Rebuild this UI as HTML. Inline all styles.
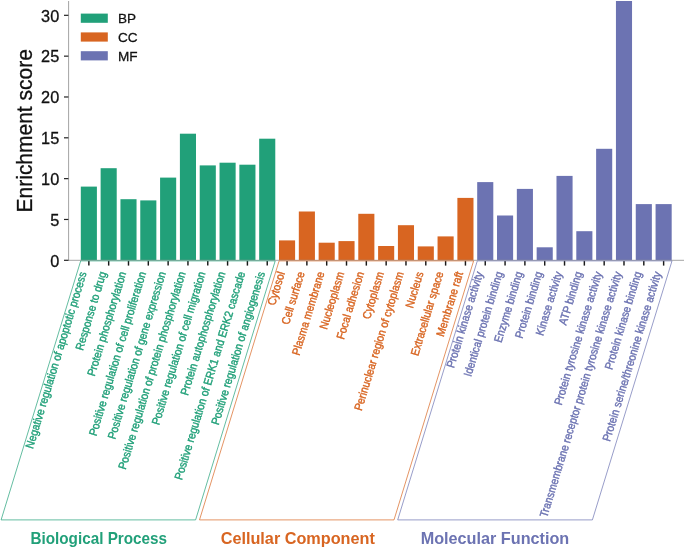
<!DOCTYPE html><html><head><meta charset="utf-8"><title>GO enrichment</title><style>html,body{margin:0;padding:0;background:#fff}svg{display:block;will-change:transform;opacity:0.999}text{font-family:"Liberation Sans",sans-serif}</style></head><body>
<svg width="685" height="549" viewBox="0 0 685 549">
<rect width="685" height="549" fill="#fff"/>
<rect x="80.80" y="186.60" width="16.1" height="73.40" fill="#21A079"/>
<rect x="100.62" y="168.20" width="16.1" height="91.80" fill="#21A079"/>
<rect x="120.44" y="199.20" width="16.1" height="60.80" fill="#21A079"/>
<rect x="140.26" y="200.40" width="16.1" height="59.60" fill="#21A079"/>
<rect x="160.08" y="177.60" width="16.1" height="82.40" fill="#21A079"/>
<rect x="179.90" y="133.70" width="16.1" height="126.30" fill="#21A079"/>
<rect x="199.72" y="165.40" width="16.1" height="94.60" fill="#21A079"/>
<rect x="219.54" y="162.70" width="16.1" height="97.30" fill="#21A079"/>
<rect x="239.36" y="164.70" width="16.1" height="95.30" fill="#21A079"/>
<rect x="259.18" y="138.70" width="16.1" height="121.30" fill="#21A079"/>
<rect x="279.00" y="240.40" width="16.1" height="19.60" fill="#D86521"/>
<rect x="298.82" y="211.50" width="16.1" height="48.50" fill="#D86521"/>
<rect x="318.64" y="242.70" width="16.1" height="17.30" fill="#D86521"/>
<rect x="338.46" y="241.10" width="16.1" height="18.90" fill="#D86521"/>
<rect x="358.28" y="213.80" width="16.1" height="46.20" fill="#D86521"/>
<rect x="378.10" y="246.00" width="16.1" height="14.00" fill="#D86521"/>
<rect x="397.92" y="225.20" width="16.1" height="34.80" fill="#D86521"/>
<rect x="417.74" y="246.40" width="16.1" height="13.60" fill="#D86521"/>
<rect x="437.56" y="236.40" width="16.1" height="23.60" fill="#D86521"/>
<rect x="457.38" y="197.90" width="16.1" height="62.10" fill="#D86521"/>
<rect x="477.20" y="182.10" width="16.1" height="77.90" fill="#6C73B2"/>
<rect x="497.02" y="215.50" width="16.1" height="44.50" fill="#6C73B2"/>
<rect x="516.84" y="188.90" width="16.1" height="71.10" fill="#6C73B2"/>
<rect x="536.66" y="247.30" width="16.1" height="12.70" fill="#6C73B2"/>
<rect x="556.48" y="175.90" width="16.1" height="84.10" fill="#6C73B2"/>
<rect x="576.30" y="231.20" width="16.1" height="28.80" fill="#6C73B2"/>
<rect x="596.12" y="148.80" width="16.1" height="111.20" fill="#6C73B2"/>
<rect x="615.94" y="1.00" width="16.1" height="259.00" fill="#6C73B2"/>
<rect x="635.76" y="204.10" width="16.1" height="55.90" fill="#6C73B2"/>
<rect x="655.58" y="204.10" width="16.1" height="55.90" fill="#6C73B2"/>
<line x1="68.6" y1="1" x2="68.6" y2="260.7" stroke="#929292" stroke-width="0.85"/>
<line x1="68.2" y1="260.3" x2="684" y2="260.3" stroke="#929292" stroke-width="0.85"/>
<line x1="64" y1="260.30" x2="68.4" y2="260.30" stroke="#222" stroke-width="1.2"/>
<text transform="translate(59.2,266.60) scale(1.0,1)" font-size="16.3" text-anchor="end" fill="#111" stroke="#111" stroke-width="0.3">0</text>
<line x1="64" y1="219.47" x2="68.4" y2="219.47" stroke="#222" stroke-width="1.2"/>
<text transform="translate(59.2,225.77) scale(1.0,1)" font-size="16.3" text-anchor="end" fill="#111" stroke="#111" stroke-width="0.3">5</text>
<line x1="64" y1="178.64" x2="68.4" y2="178.64" stroke="#222" stroke-width="1.2"/>
<text transform="translate(59.2,184.94) scale(1.0,1)" font-size="16.3" text-anchor="end" fill="#111" stroke="#111" stroke-width="0.3">10</text>
<line x1="64" y1="137.81" x2="68.4" y2="137.81" stroke="#222" stroke-width="1.2"/>
<text transform="translate(59.2,144.11) scale(1.0,1)" font-size="16.3" text-anchor="end" fill="#111" stroke="#111" stroke-width="0.3">15</text>
<line x1="64" y1="96.98" x2="68.4" y2="96.98" stroke="#222" stroke-width="1.2"/>
<text transform="translate(59.2,103.28) scale(1.0,1)" font-size="16.3" text-anchor="end" fill="#111" stroke="#111" stroke-width="0.3">20</text>
<line x1="64" y1="56.15" x2="68.4" y2="56.15" stroke="#222" stroke-width="1.2"/>
<text transform="translate(59.2,62.45) scale(1.0,1)" font-size="16.3" text-anchor="end" fill="#111" stroke="#111" stroke-width="0.3">25</text>
<line x1="64" y1="15.32" x2="68.4" y2="15.32" stroke="#222" stroke-width="1.2"/>
<text transform="translate(59.2,21.62) scale(1.0,1)" font-size="16.3" text-anchor="end" fill="#111" stroke="#111" stroke-width="0.3">30</text>
<line x1="88.85" y1="260.9" x2="88.85" y2="265.6" stroke="#1a1a1a" stroke-width="1.45"/>
<line x1="108.67" y1="260.9" x2="108.67" y2="265.6" stroke="#1a1a1a" stroke-width="1.45"/>
<line x1="128.49" y1="260.9" x2="128.49" y2="265.6" stroke="#1a1a1a" stroke-width="1.45"/>
<line x1="148.31" y1="260.9" x2="148.31" y2="265.6" stroke="#1a1a1a" stroke-width="1.45"/>
<line x1="168.13" y1="260.9" x2="168.13" y2="265.6" stroke="#1a1a1a" stroke-width="1.45"/>
<line x1="187.95" y1="260.9" x2="187.95" y2="265.6" stroke="#1a1a1a" stroke-width="1.45"/>
<line x1="207.77" y1="260.9" x2="207.77" y2="265.6" stroke="#1a1a1a" stroke-width="1.45"/>
<line x1="227.59" y1="260.9" x2="227.59" y2="265.6" stroke="#1a1a1a" stroke-width="1.45"/>
<line x1="247.41" y1="260.9" x2="247.41" y2="265.6" stroke="#1a1a1a" stroke-width="1.45"/>
<line x1="267.23" y1="260.9" x2="267.23" y2="265.6" stroke="#1a1a1a" stroke-width="1.45"/>
<line x1="287.05" y1="260.9" x2="287.05" y2="265.6" stroke="#1a1a1a" stroke-width="1.45"/>
<line x1="306.87" y1="260.9" x2="306.87" y2="265.6" stroke="#1a1a1a" stroke-width="1.45"/>
<line x1="326.69" y1="260.9" x2="326.69" y2="265.6" stroke="#1a1a1a" stroke-width="1.45"/>
<line x1="346.51" y1="260.9" x2="346.51" y2="265.6" stroke="#1a1a1a" stroke-width="1.45"/>
<line x1="366.33" y1="260.9" x2="366.33" y2="265.6" stroke="#1a1a1a" stroke-width="1.45"/>
<line x1="386.15" y1="260.9" x2="386.15" y2="265.6" stroke="#1a1a1a" stroke-width="1.45"/>
<line x1="405.97" y1="260.9" x2="405.97" y2="265.6" stroke="#1a1a1a" stroke-width="1.45"/>
<line x1="425.79" y1="260.9" x2="425.79" y2="265.6" stroke="#1a1a1a" stroke-width="1.45"/>
<line x1="445.61" y1="260.9" x2="445.61" y2="265.6" stroke="#1a1a1a" stroke-width="1.45"/>
<line x1="465.43" y1="260.9" x2="465.43" y2="265.6" stroke="#1a1a1a" stroke-width="1.45"/>
<line x1="485.25" y1="260.9" x2="485.25" y2="265.6" stroke="#1a1a1a" stroke-width="1.45"/>
<line x1="505.07" y1="260.9" x2="505.07" y2="265.6" stroke="#1a1a1a" stroke-width="1.45"/>
<line x1="524.89" y1="260.9" x2="524.89" y2="265.6" stroke="#1a1a1a" stroke-width="1.45"/>
<line x1="544.71" y1="260.9" x2="544.71" y2="265.6" stroke="#1a1a1a" stroke-width="1.45"/>
<line x1="564.53" y1="260.9" x2="564.53" y2="265.6" stroke="#1a1a1a" stroke-width="1.45"/>
<line x1="584.35" y1="260.9" x2="584.35" y2="265.6" stroke="#1a1a1a" stroke-width="1.45"/>
<line x1="604.17" y1="260.9" x2="604.17" y2="265.6" stroke="#1a1a1a" stroke-width="1.45"/>
<line x1="623.99" y1="260.9" x2="623.99" y2="265.6" stroke="#1a1a1a" stroke-width="1.45"/>
<line x1="643.81" y1="260.9" x2="643.81" y2="265.6" stroke="#1a1a1a" stroke-width="1.45"/>
<line x1="663.63" y1="260.9" x2="663.63" y2="265.6" stroke="#1a1a1a" stroke-width="1.45"/>
<text transform="translate(86.85,272.6) scale(1.14,1) rotate(-75.0) skewX(7.0)" font-size="10.23" font-style="italic" text-anchor="end" fill="#21A079" stroke="#21A079" stroke-width="0.35">Negative regulation of apoptotic process</text>
<text transform="translate(106.67,272.6) scale(1.14,1) rotate(-75.0) skewX(7.0)" font-size="10.23" font-style="italic" text-anchor="end" fill="#21A079" stroke="#21A079" stroke-width="0.35">Response to drug</text>
<text transform="translate(126.49,272.6) scale(1.14,1) rotate(-75.0) skewX(7.0)" font-size="10.23" font-style="italic" text-anchor="end" fill="#21A079" stroke="#21A079" stroke-width="0.35">Protein phosphorylation</text>
<text transform="translate(146.31,272.6) scale(1.14,1) rotate(-75.0) skewX(7.0)" font-size="10.23" font-style="italic" text-anchor="end" fill="#21A079" stroke="#21A079" stroke-width="0.35">Positive regulation of cell proliferation</text>
<text transform="translate(166.13,272.6) scale(1.14,1) rotate(-75.0) skewX(7.0)" font-size="10.23" font-style="italic" text-anchor="end" fill="#21A079" stroke="#21A079" stroke-width="0.35">Positive regulation of gene expression</text>
<text transform="translate(185.95,272.6) scale(1.14,1) rotate(-75.0) skewX(7.0)" font-size="10.23" font-style="italic" text-anchor="end" fill="#21A079" stroke="#21A079" stroke-width="0.35">Positive regulation of protein phosphorylation</text>
<text transform="translate(205.77,272.6) scale(1.14,1) rotate(-75.0) skewX(7.0)" font-size="10.23" font-style="italic" text-anchor="end" fill="#21A079" stroke="#21A079" stroke-width="0.35">Positive regulation of cell migration</text>
<text transform="translate(225.59,272.6) scale(1.14,1) rotate(-75.0) skewX(7.0)" font-size="10.23" font-style="italic" text-anchor="end" fill="#21A079" stroke="#21A079" stroke-width="0.35">Protein autophosphorylation</text>
<text transform="translate(245.41,272.6) scale(1.14,1) rotate(-75.0) skewX(7.0)" font-size="10.23" font-style="italic" text-anchor="end" fill="#21A079" stroke="#21A079" stroke-width="0.35">Positive regulation of ERK1 and ERK2 cascade</text>
<text transform="translate(265.23,272.6) scale(1.14,1) rotate(-75.0) skewX(7.0)" font-size="10.23" font-style="italic" text-anchor="end" fill="#21A079" stroke="#21A079" stroke-width="0.35">Positive regulation of angiogenesis</text>
<text transform="translate(285.05,272.6) scale(1.14,1) rotate(-75.0) skewX(7.0)" font-size="10.23" font-style="italic" text-anchor="end" fill="#D86521" stroke="#D86521" stroke-width="0.35">Cytosol</text>
<text transform="translate(304.87,272.6) scale(1.14,1) rotate(-75.0) skewX(7.0)" font-size="10.23" font-style="italic" text-anchor="end" fill="#D86521" stroke="#D86521" stroke-width="0.35">Cell surface</text>
<text transform="translate(324.69,272.6) scale(1.14,1) rotate(-75.0) skewX(7.0)" font-size="10.23" font-style="italic" text-anchor="end" fill="#D86521" stroke="#D86521" stroke-width="0.35">Plasma membrane</text>
<text transform="translate(344.51,272.6) scale(1.14,1) rotate(-75.0) skewX(7.0)" font-size="10.23" font-style="italic" text-anchor="end" fill="#D86521" stroke="#D86521" stroke-width="0.35">Nucleoplasm</text>
<text transform="translate(364.33,272.6) scale(1.14,1) rotate(-75.0) skewX(7.0)" font-size="10.23" font-style="italic" text-anchor="end" fill="#D86521" stroke="#D86521" stroke-width="0.35">Focal adhesion</text>
<text transform="translate(384.15,272.6) scale(1.14,1) rotate(-75.0) skewX(7.0)" font-size="10.23" font-style="italic" text-anchor="end" fill="#D86521" stroke="#D86521" stroke-width="0.35">Cytoplasm</text>
<text transform="translate(403.97,272.6) scale(1.14,1) rotate(-75.0) skewX(7.0)" font-size="10.23" font-style="italic" text-anchor="end" fill="#D86521" stroke="#D86521" stroke-width="0.35">Perinuclear region of cytoplasm</text>
<text transform="translate(423.79,272.6) scale(1.14,1) rotate(-75.0) skewX(7.0)" font-size="10.23" font-style="italic" text-anchor="end" fill="#D86521" stroke="#D86521" stroke-width="0.35">Nucleus</text>
<text transform="translate(443.61,272.6) scale(1.14,1) rotate(-75.0) skewX(7.0)" font-size="10.23" font-style="italic" text-anchor="end" fill="#D86521" stroke="#D86521" stroke-width="0.35">Extracellular space</text>
<text transform="translate(463.43,272.6) scale(1.14,1) rotate(-75.0) skewX(7.0)" font-size="10.23" font-style="italic" text-anchor="end" fill="#D86521" stroke="#D86521" stroke-width="0.35">Membrane raft</text>
<text transform="translate(483.25,272.6) scale(1.14,1) rotate(-75.0) skewX(7.0)" font-size="10.23" font-style="italic" text-anchor="end" fill="#6C73B2" stroke="#6C73B2" stroke-width="0.35">Protein kinase activity</text>
<text transform="translate(503.07,272.6) scale(1.14,1) rotate(-75.0) skewX(7.0)" font-size="10.23" font-style="italic" text-anchor="end" fill="#6C73B2" stroke="#6C73B2" stroke-width="0.35">Identical protein binding</text>
<text transform="translate(522.89,272.6) scale(1.14,1) rotate(-75.0) skewX(7.0)" font-size="10.23" font-style="italic" text-anchor="end" fill="#6C73B2" stroke="#6C73B2" stroke-width="0.35">Enzyme binding</text>
<text transform="translate(542.71,272.6) scale(1.14,1) rotate(-75.0) skewX(7.0)" font-size="10.23" font-style="italic" text-anchor="end" fill="#6C73B2" stroke="#6C73B2" stroke-width="0.35">Protein binding</text>
<text transform="translate(562.53,272.6) scale(1.14,1) rotate(-75.0) skewX(7.0)" font-size="10.23" font-style="italic" text-anchor="end" fill="#6C73B2" stroke="#6C73B2" stroke-width="0.35">Kinase activity</text>
<text transform="translate(582.35,272.6) scale(1.14,1) rotate(-75.0) skewX(7.0)" font-size="10.23" font-style="italic" text-anchor="end" fill="#6C73B2" stroke="#6C73B2" stroke-width="0.35">ATP binding</text>
<text transform="translate(602.17,272.6) scale(1.14,1) rotate(-75.0) skewX(7.0)" font-size="10.23" font-style="italic" text-anchor="end" fill="#6C73B2" stroke="#6C73B2" stroke-width="0.35">Protein tyrosine kinase activity</text>
<text transform="translate(621.99,272.6) scale(1.14,1) rotate(-75.0) skewX(7.0)" font-size="10.23" font-style="italic" text-anchor="end" fill="#6C73B2" stroke="#6C73B2" stroke-width="0.35">Transmembrane receptor protein tyrosine kinase activity</text>
<text transform="translate(641.81,272.6) scale(1.14,1) rotate(-75.0) skewX(7.0)" font-size="10.23" font-style="italic" text-anchor="end" fill="#6C73B2" stroke="#6C73B2" stroke-width="0.35">Protein kinase binding</text>
<text transform="translate(661.63,272.6) scale(1.14,1) rotate(-75.0) skewX(7.0)" font-size="10.23" font-style="italic" text-anchor="end" fill="#6C73B2" stroke="#6C73B2" stroke-width="0.35">Protein serine/threonine kinase activity</text>
<polygon points="80.7,260.9 275.2,260.9 195.6,519.9 1.1000000000000085,519.9" fill="none" stroke="#21A079" stroke-width="0.7"/>
<polygon points="279.1,260.9 473.6,260.9 394.0,519.9 199.50000000000003,519.9" fill="none" stroke="#D86521" stroke-width="0.7"/>
<polygon points="477.3,260.9 672.0,260.9 592.4,519.9 397.70000000000005,519.9" fill="none" stroke="#6C73B2" stroke-width="0.7"/>
<rect x="80.8" y="13.6" width="27" height="9.2" fill="#21A079"/>
<text transform="translate(118.0,22.9) scale(1.07,1)" font-size="12.7" fill="#111" stroke="#111" stroke-width="0.25">BP</text>
<rect x="80.8" y="32.4" width="27" height="9.2" fill="#D86521"/>
<text transform="translate(118.0,41.7) scale(1.07,1)" font-size="12.7" fill="#111" stroke="#111" stroke-width="0.25">CC</text>
<rect x="80.8" y="51.2" width="27" height="9.2" fill="#6C73B2"/>
<text transform="translate(118.0,60.5) scale(1.07,1)" font-size="12.7" fill="#111" stroke="#111" stroke-width="0.25">MF</text>
<text transform="translate(32.0,130.8) rotate(-90) scale(1,1.04)" font-size="21" text-anchor="middle" fill="#111" stroke="#111" stroke-width="0.3">Enrichment score</text>
<text x="30.4" y="544" font-size="16.4" font-weight="bold" fill="#21A079" textLength="136.7" lengthAdjust="spacingAndGlyphs">Biological Process</text>
<text x="220.7" y="544" font-size="16.4" font-weight="bold" fill="#D86521" textLength="154.2" lengthAdjust="spacingAndGlyphs">Cellular Component</text>
<text x="420.7" y="544" font-size="16.4" font-weight="bold" fill="#6C73B2" textLength="148.6" lengthAdjust="spacingAndGlyphs">Molecular Function</text>
</svg></body></html>
